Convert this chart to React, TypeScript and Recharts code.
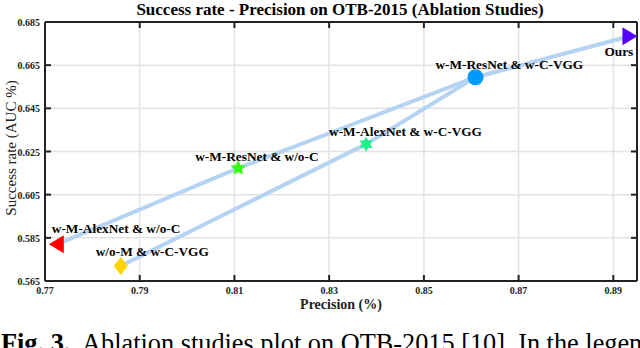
import { ScatterChart, Scatter, XAxis, YAxis, CartesianGrid, ReferenceLine } from 'recharts';

// values
const methods = [
  'w-M-AlexNet & w/o-C',
  'w/o-M & w-C-VGG',
  'w-M-ResNet & w/o-C',
  'w-M-AlexNet & w-C-VGG',
  'w-M-ResNet & w-C-VGG',
  'Ours',
];
const precision = [0.7725, 0.786, 0.8108, 0.8378, 0.8609, 0.8934];
const successRate = [0.582, 0.572, 0.6173, 0.6284, 0.6594, 0.6784];

// the two light blue connecting paths
const pathA = ['w-M-AlexNet & w/o-C', 'w-M-ResNet & w/o-C', 'w-M-ResNet & w-C-VGG', 'Ours'];
const pathB = ['w/o-M & w-C-VGG', 'w-M-AlexNet & w-C-VGG', 'w-M-ResNet & w-C-VGG'];

const xTicks = [0.77, 0.79, 0.81, 0.83, 0.85, 0.87, 0.89];
const yTicks = [0.565, 0.585, 0.605, 0.625, 0.645, 0.665, 0.685];

const points = methods.map((name, i) => ({ name, x: precision[i], y: successRate[i] }));
const byName = (n: string) => points.find((p) => p.name === n)!;
const lineA = pathA.map(byName);
const lineB = pathB.map(byName);

// marker look + label placement
const styles: Record<string, { color: string; shape: string; dx: number; dy: number }> = {
  'w-M-AlexNet & w/o-C': { color: '#ff0000', shape: 'left', dx: -5, dy: -11 },
  'w/o-M & w-C-VGG': { color: '#ffd400', shape: 'diamond', dx: -25, dy: -10 },
  'w-M-ResNet & w/o-C': { color: '#33ff11', shape: 'star5', dx: -43, dy: -7 },
  'w-M-AlexNet & w-C-VGG': { color: '#1ff08a', shape: 'star6', dx: -37, dy: -8 },
  'w-M-ResNet & w-C-VGG': { color: '#0099ff', shape: 'circle', dx: -40, dy: -8 },
  Ours: { color: '#5500ff', shape: 'right', dx: -25, dy: 20 },
};

const W = 640;
const H = 318;
const M = { top: 22, right: 3, left: 0, bottom: 17 };
const Y_W = 45;
const X_H = 20;
const PLOT_TOP = M.top;
const PLOT_BOTTOM = H - M.bottom - X_H;
const PLOT_LEFT = M.left + Y_W;
const PLOT_RIGHT = W - M.right;
const FONT = '"Liberation Serif", "Times New Roman", serif';

function starPoints(cx: number, cy: number, n: number, ro: number, ri: number) {
  const pts: string[] = [];
  for (let i = 0; i < n * 2; i++) {
    const r = i % 2 === 0 ? ro : ri;
    const a = -Math.PI / 2 + (i * Math.PI) / n;
    pts.push(`${cx + r * Math.cos(a)},${cy + r * Math.sin(a)}`);
  }
  return pts.join(' ');
}

function Marker(props: any) {
  const { cx, cy, payload } = props;
  const s = styles[payload.name];
  let mark = null;
  if (s.shape === 'left') mark = <polygon points={`${cx - 8},${cy} ${cx + 7},${cy - 9} ${cx + 7},${cy + 9}`} fill={s.color} />;
  if (s.shape === 'right') mark = <polygon points={`${cx + 8},${cy} ${cx - 7},${cy - 9} ${cx - 7},${cy + 9}`} fill={s.color} />;
  if (s.shape === 'diamond') mark = <polygon points={`${cx},${cy - 9} ${cx + 7},${cy} ${cx},${cy + 9} ${cx - 7},${cy}`} fill={s.color} />;
  if (s.shape === 'circle') mark = <circle cx={cx} cy={cy} r={8} fill={s.color} />;
  if (s.shape === 'star5') mark = <polygon points={starPoints(cx, cy, 5, 8, 4)} fill={s.color} />;
  if (s.shape === 'star6') mark = <polygon points={starPoints(cx, cy, 6, 7.5, 4.2)} fill={s.color} />;
  return (
    <g>
      {mark}
      <text x={cx + s.dx} y={cy + s.dy} fontFamily={FONT} fontWeight="bold" fontSize={13.3} fill="#000">
        {payload.name}
      </text>
    </g>
  );
}

const XTick = (props: any) => {
  const { x, payload } = props;
  return (
    <g>
      <line x1={x} y1={PLOT_BOTTOM} x2={x} y2={PLOT_BOTTOM - 6} stroke="#222" strokeWidth={2} />
      <line x1={x} y1={PLOT_TOP} x2={x} y2={PLOT_TOP + 6} stroke="#222" strokeWidth={2} />
      <text x={x} y={PLOT_BOTTOM + 13} textAnchor="middle" fontFamily={FONT} fontWeight="bold" fontSize={10} fill="#222">
        {payload.value}
      </text>
    </g>
  );
};

const YTick = (props: any) => {
  const { y, payload } = props;
  return (
    <g>
      <line x1={PLOT_LEFT} y1={y} x2={PLOT_LEFT + 6} y2={y} stroke="#222" strokeWidth={2} />
      <line x1={PLOT_RIGHT} y1={y} x2={PLOT_RIGHT - 6} y2={y} stroke="#222" strokeWidth={2} />
      <text x={PLOT_LEFT - 5} y={y + 4} textAnchor="end" fontFamily={FONT} fontWeight="bold" fontSize={10} fill="#222">
        {payload.value}
      </text>
    </g>
  );
};

const Empty = () => <g />;

export default function App() {
  return (
    <div style={{ position: 'absolute', left: 0, top: 0, width: 640, height: 348, background: '#fff', overflow: 'hidden' }}>
      <div
        style={{
          position: 'absolute',
          top: 0,
          left: 0,
          width: 680,
          textAlign: 'center',
          fontFamily: FONT,
          fontWeight: 'bold',
          fontSize: 17,
          color: '#000',
          whiteSpace: 'nowrap',
        }}
      >
        Success rate - Precision on OTB-2015 (Ablation Studies)
      </div>
      <ScatterChart width={W} height={H} margin={M} style={{ position: 'absolute', left: 0, top: 0 }}>
        <CartesianGrid stroke="#e3e3e3" strokeWidth={1.5} />
        <XAxis
          type="number"
          dataKey="x"
          domain={[0.77, 0.895]}
          ticks={xTicks}
          height={X_H}
          tickLine={false}
          axisLine={{ stroke: '#222', strokeWidth: 2 }}
          tick={<XTick />}
          allowDataOverflow
        />
        <YAxis
          type="number"
          dataKey="y"
          domain={[0.565, 0.685]}
          ticks={yTicks}
          width={Y_W}
          tickLine={false}
          axisLine={{ stroke: '#222', strokeWidth: 2 }}
          tick={<YTick />}
          allowDataOverflow
        />
        <ReferenceLine y={0.685} stroke="#222" strokeWidth={2} />
        <ReferenceLine x={0.895} stroke="#222" strokeWidth={2} />
        <Scatter data={lineA} line={{ stroke: '#b5d3f3', strokeWidth: 4 }} shape={<Empty />} isAnimationActive={false} />
        <Scatter data={lineB} line={{ stroke: '#b5d3f3', strokeWidth: 4 }} shape={<Empty />} isAnimationActive={false} />
        <Scatter data={points} shape={<Marker />} isAnimationActive={false} />
      </ScatterChart>
      <div
        style={{
          position: 'absolute',
          left: 11,
          top: 148,
          transform: 'translate(-50%, -50%) rotate(-90deg)',
          whiteSpace: 'nowrap',
          fontFamily: FONT,
          fontSize: 15,
          color: '#222',
        }}
      >
        Success rate (AUC %)
      </div>
      <div
        style={{
          position: 'absolute',
          top: 297,
          left: 0,
          width: 682,
          whiteSpace: 'nowrap',
          textAlign: 'center',
          fontFamily: FONT,
          fontWeight: 'bold',
          fontSize: 14,
          color: '#222',
        }}
      >
        Precision (%)
      </div>
      <div
        style={{
          position: 'absolute',
          top: 329,
          left: 1,
          whiteSpace: 'nowrap',
          fontFamily: FONT,
          fontSize: 26.3,
          color: '#000',
        }}
      >
        <b>Fig. 3.</b>&nbsp; Ablation studies plot on OTB-2015 [10]. In the legend
      </div>
    </div>
  );
}
